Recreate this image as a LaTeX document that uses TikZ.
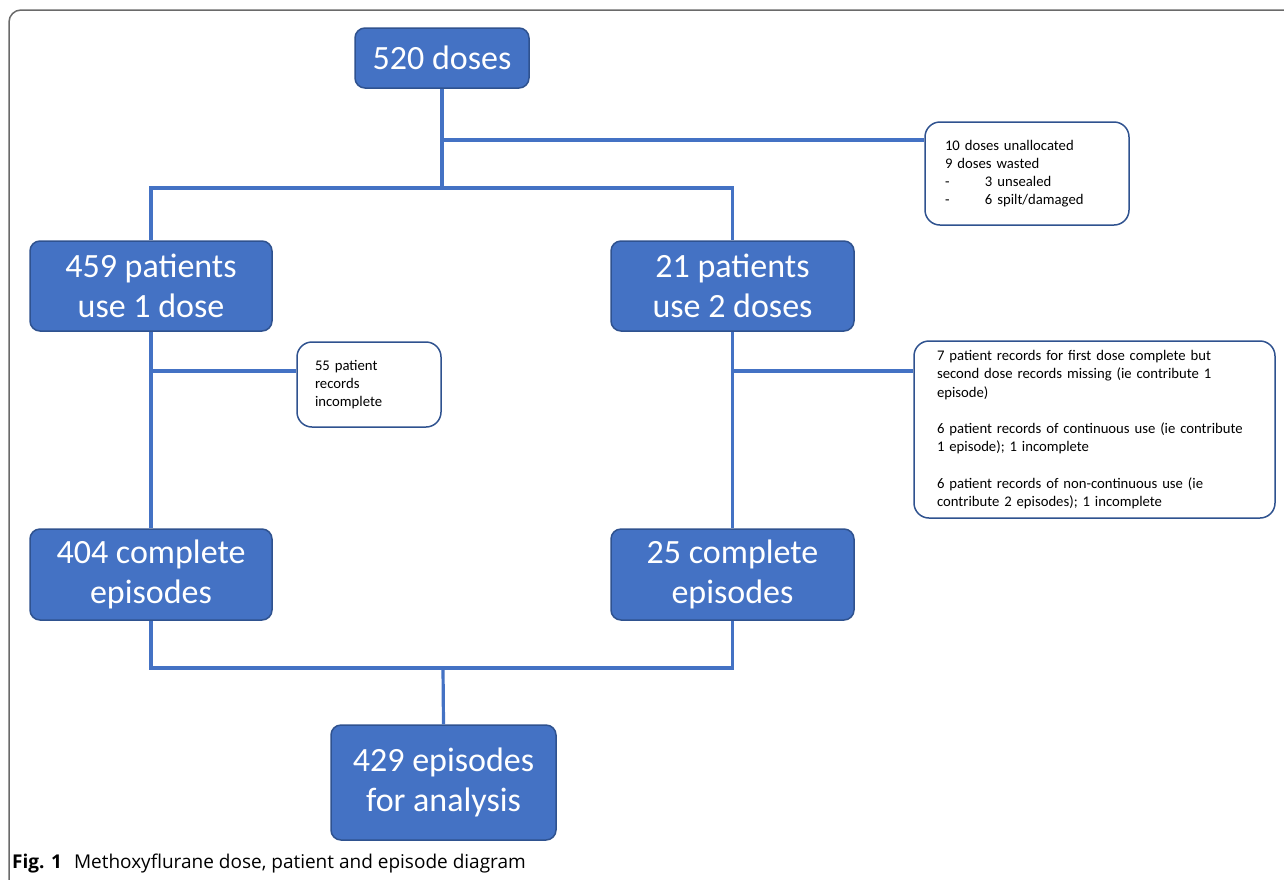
\documentclass[tikz,border=0pt]{standalone}
\usepackage{fontspec}
\setmainfont{Carlito}
\newfontfamily\capfont{Open Sans}
\definecolor{boxblue}{HTML}{4472C4}
\definecolor{boxedge}{HTML}{2F528F}
\definecolor{framegray}{HTML}{6A6A6A}
\begin{document}
\begin{tikzpicture}[x=1pt,y=-1pt,
  bigbox/.style={draw=boxedge, line width=1.5pt, fill=boxblue, rounded corners=10pt,
    text=white, font=\fontsize{34}{40}\selectfont, align=center, inner sep=0pt},
  notebox/.style={draw=boxedge, line width=1.5pt, fill=white, rounded corners=15pt,
    font=\fontsize{14.7}{18.2}\selectfont, align=left, inner ysep=0pt},
  conn/.style={draw=boxblue, line width=3.2pt}]
\useasboundingbox (0,0) rectangle (1284,879);
% outer frame
\draw[framegray, line width=1.5pt, rounded corners=12pt] (9,890) -- (9,10) -- (1300,10);
% main boxes
\node[bigbox, minimum width=174pt, minimum height=60pt] (d520) at (442,58) {520 doses};
\node[bigbox, minimum width=242pt, minimum height=90pt] (p1) at (151,286) {459 patients\\use 1 dose};
\node[bigbox, minimum width=243pt, minimum height=90pt] (p2) at (732.5,286) {21 patients\\use 2 doses};
\node[bigbox, minimum width=242pt, minimum height=91pt] (c1) at (151,574.5) {404 complete\\episodes};
\node[bigbox, minimum width=243pt, minimum height=91pt] (c2) at (732.5,574.5) {25 complete\\episodes};
\node[bigbox, minimum width=225pt, minimum height=115pt] (fin) at (443.5,782.5) {429 episodes\\for analysis};
% note boxes
\node[notebox, text width=164pt, inner xsep=20pt, minimum height=103pt] (n1) at (1027,173.5)
  {10 doses unallocated\\9 doses wasted\\\makebox[40pt][l]{-}3 unsealed\\\makebox[40pt][l]{-}6 spilt/damaged};
\node[notebox, text width=108pt, inner xsep=18pt, minimum height=85pt] (n2) at (369,384.5)
  {55 patient\\records\\incomplete};
\node[notebox, text width=315pt, inner xsep=23pt, minimum height=177pt] (n3) at (1094.5,429.5)
  {7 patient records for first dose complete but\\second dose records missing (ie contribute 1\\episode)\\[18.2pt]
   6 patient records of continuous use (ie contribute\\1 episode); 1 incomplete\\[18.2pt]
   6 patient records of non-continuous use (ie\\contribute 2 episodes); 1 incomplete};
% junctions
\coordinate (j1) at (442,188);
\coordinate (b1) at (442,140);
\coordinate (b2) at (151,371);
\coordinate (b3) at (734,371);
\coordinate (j2) at (443,668);
% connectors
\draw[conn] (d520.south) -- (j1);
\draw[conn] (b1) -- (b1 -| n1.west);
\draw[conn] (p1.north) |- (j1) -| (p2.north);
\draw[conn] (p1.south) -- (c1.north);
\draw[conn] (b2) -- (b2 -| n2.west);
\draw[conn] (p2.south) -- (c2.north);
\draw[conn] (b3) -- (b3 -| n3.west);
\draw[conn] (c1.south) |- (j2) -| (c2.south);
\draw[conn] (j2) -- (fin.north);
% caption
\node[anchor=base west, inner sep=0pt, font=\capfont\fontsize{19}{22}\selectfont] (cap) at (12,868)
  {\textbf{Fig. 1}\hspace{12pt}Methoxyflurane dose, patient and episode diagram};
\end{tikzpicture}
\end{document}
